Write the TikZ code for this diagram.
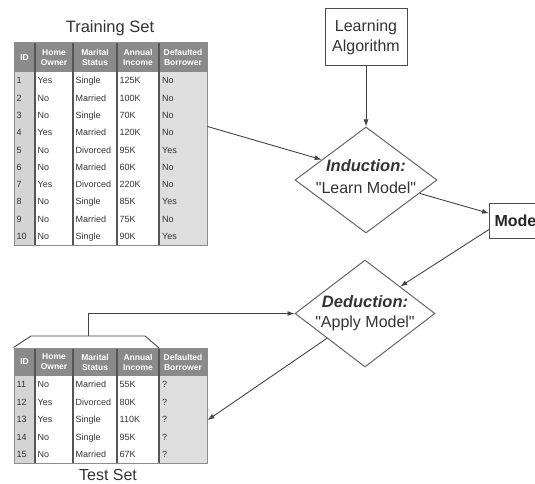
\documentclass[tikz,border=0pt]{standalone}
\usepackage{fontspec}
\setmainfont{Liberation Sans}[Ligatures=TeXOff]
\usetikzlibrary{shapes.geometric,arrows.meta,calc}
\definecolor{hdr}{HTML}{8A8A8A}
\definecolor{idc}{HTML}{D4D4D4}
\definecolor{dfc}{HTML}{DEDEDE}
\definecolor{sepc}{HTML}{555555}
\definecolor{lc}{HTML}{444444}
\definecolor{txt}{HTML}{333333}
\definecolor{bord}{HTML}{8C8C8C}
\begin{document}
\begin{tikzpicture}[x=1pt,y=-1pt,
  arr/.style={draw=lc, line width=0.9pt, -{Latex[length=7pt,width=5pt]}},
  plain/.style={draw=lc, line width=0.9pt},
  sepline/.style={draw=sepc, line width=1.2pt},
  tbox/.style={draw=bord, line width=1pt, inner sep=0pt, fill=none},
  hd/.style={text=white, inner sep=0pt, align=center, font=\fontsize{8.5}{10}\selectfont\bfseries},
  cell/.style={anchor=base west, inner sep=0pt, text=txt, font=\fontsize{9}{10}\selectfont},
  ttl/.style={inner sep=0pt, text=txt, font=\fontsize{16.5}{18}\selectfont},
  dia/.style={diamond, draw=black!60, line width=1pt, inner sep=0pt, fill=white},
  dtxt/.style={inner sep=0pt, text=txt, font=\fontsize{16}{18}\selectfont},
  boxn/.style={draw=black!70, line width=1pt, inner sep=0pt, fill=white}
]
\useasboundingbox (0,0) rectangle (535,484);
\clip (0,0) rectangle (535,484);

% ---------- Training table ----------
\node[ttl] (trtitle) at (110,28) {Training Set};
\fill[hdr] (14,43) rectangle (207,72);
\fill[idc] (14,72) rectangle (35,245);
\fill[dfc] (159,72) rectangle (207,245);
\foreach \x in {35,73,117,159} \draw[sepline] (\x,43) -- (\x,245);
\node[tbox, minimum width=193pt, minimum height=202pt] (train) at (110.5,144) {};
\node[hd] (trh1) at (24.5,57.5) {ID};
\node[hd] (trh2) at (54,57.5) {Home\\Owner};
\node[hd] (trh3) at (95,57.5) {Marital\\Status};
\node[hd] (trh4) at (138,57.5) {Annual\\Income};
\node[hd] (trh5) at (183,57.5) {Defaulted\\Borrower};
\foreach \i/\a/\b/\c/\d [count=\k] in {1/Yes/Single/125K/No, 2/No/Married/100K/No, 3/No/Single/70K/No, 4/Yes/Married/120K/No, 5/No/Divorced/95K/Yes, 6/No/Married/60K/No, 7/Yes/Divorced/220K/No, 8/No/Single/85K/Yes, 9/No/Married/75K/No, 10/No/Single/90K/Yes} {
  \pgfmathsetmacro\yy{72+17.3*(\k-0.5)+3.2}
  \node[cell] (tr-\k-1) at (16.5,\yy) {\i};
  \node[cell] (tr-\k-2) at (37.5,\yy) {\a};
  \node[cell] (tr-\k-3) at (75.5,\yy) {\b};
  \node[cell] (tr-\k-4) at (119.5,\yy) {\c};
  \node[cell] (tr-\k-5) at (162,\yy) {\d};
}

% ---------- Test table ----------
\fill[hdr] (14,348) rectangle (207,376);
\fill[idc] (14,376) rectangle (35,463);
\fill[dfc] (159,376) rectangle (207,463);
\foreach \x in {35,73,117,159} \draw[sepline] (\x,348) -- (\x,463);
\node[tbox, minimum width=193pt, minimum height=115pt] (test) at (110.5,405.5) {};
\node[hd] (tsh1) at (24.5,362) {ID};
\node[hd] (tsh2) at (54,362) {Home\\Owner};
\node[hd] (tsh3) at (95,362) {Marital\\Status};
\node[hd] (tsh4) at (138,362) {Annual\\Income};
\node[hd] (tsh5) at (183,362) {Defaulted\\Borrower};
\foreach \i/\a/\b/\c/\d [count=\k] in {11/No/Married/55K/?, 12/Yes/Divorced/80K/?, 13/Yes/Single/110K/?, 14/No/Single/95K/?, 15/No/Married/67K/?} {
  \pgfmathsetmacro\yy{376+17.4*(\k-0.5)+3.2}
  \node[cell] (ts-\k-1) at (16.5,\yy) {\i};
  \node[cell] (ts-\k-2) at (37.5,\yy) {\a};
  \node[cell] (ts-\k-3) at (75.5,\yy) {\b};
  \node[cell] (ts-\k-4) at (119.5,\yy) {\c};
  \node[cell] (ts-\k-5) at (162,\yy) {\d};
}
\node[ttl, font=\fontsize{16}{18}\selectfont] (tstitle) at (108,474.5) {Test Set};

% ---------- Flow ----------
\node[boxn, minimum width=82pt, minimum height=57pt, align=center, font=\fontsize{16}{20}\selectfont, text=txt] (la) at (366,37.5) {Learning\\Algorithm};

\node[dia, minimum width=142pt, minimum height=106pt] (ind) at (366,180) {};
\node[dtxt, font=\fontsize{16.5}{18}\selectfont\bfseries\itshape] (indt1) at (366,166) {Induction:};
\node[dtxt] (indt2) at (366,188) {"Learn Model"};

\node[dia, minimum width=140pt, minimum height=107pt] (ded) at (365,313.5) {};
\node[dtxt, font=\fontsize{16.5}{18}\selectfont\bfseries\itshape] (dedt1) at (365,302) {Deduction:};
\node[dtxt] (dedt2) at (365,323) {"Apply Model"};

\node[boxn, anchor=west, minimum height=35pt, inner xsep=5pt, font=\fontsize{16}{18}\selectfont\bfseries, text=black!85] (model) at (489,220.5) {Model};

% connectors
\coordinate (trout) at ($(train.north east)+(0,84)$);
\draw[arr] (trout) -- ($(ind.west)!0.38!(ind.north)$);
\draw[arr] (la) -- (ind);
\draw[arr] ($(ind.east)!0.25!(ind.south)$) -- ($(model.north west)!0.3!(model.south west)$);
\draw[arr] ($(model.north west)!0.75!(model.south west)$) -- (ded.north east);
\coordinate (tsout) at ($(test.north east)!0.626!(test.south east)$);
\draw[arr] ($(ded.west)!0.46!(ded.south)$) -- (tsout);

% test set bracket
\coordinate (tq) at (88,336);
\draw[plain] (test.north west) -- (31,336) -- (145,336) -- (159,348);
\draw[arr] (tq) |- (ded.west);
\end{tikzpicture}
\end{document}
